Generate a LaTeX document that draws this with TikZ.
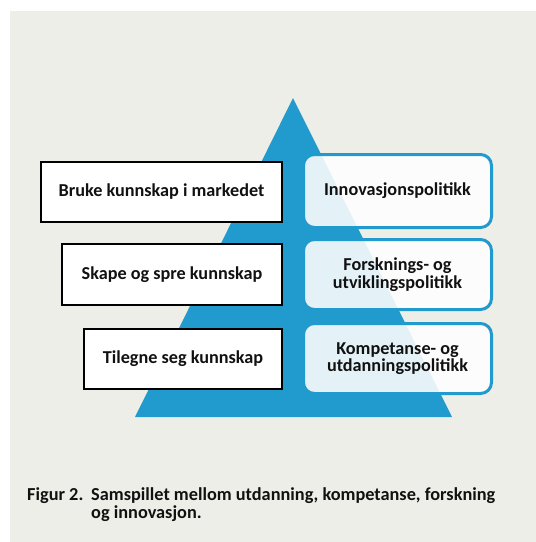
\documentclass[tikz,border=0pt]{standalone}
\usepackage{fontspec}
\setmainfont{Carlito}
\definecolor{panel}{HTML}{EEEEE9}
\definecolor{pyramid}{HTML}{219ACD}
\definecolor{ink}{HTML}{111111}
\begin{document}
\begin{tikzpicture}[x=1pt,y=-1pt,
  boxtext/.style={font=\bfseries\fontsize{18.2}{17.5}\selectfont, text=ink, align=center, inner sep=0pt},
  levelbox/.style={boxtext, draw=black, line width=1.3pt, fill=white},
  policybox/.style={boxtext, draw=pyramid, line width=3pt, rounded corners=11pt,
    fill=white, fill opacity=0.88, text opacity=1},
  caption/.style={font=\bfseries\fontsize{18.3}{16}\selectfont, text=ink, inner sep=0pt,
    anchor=base west, text height=10pt, text depth=2pt}]
  \useasboundingbox (0,0) rectangle (536,542);
  % backdrop panel
  \fill[panel] (10,11) rectangle (536,542);
  % pyramid
  \fill[pyramid] (293,98) -- (452,417) -- (135,417) -- cycle;
  % activity levels
  \node[levelbox, minimum width=241pt, minimum height=60pt] (bruke) at (161.5,192) {Bruke kunnskap i markedet};
  \node[levelbox, minimum width=220pt, minimum height=61pt] (skape) at (172,274.5) {Skape og spre kunnskap};
  \node[levelbox, minimum width=198pt, minimum height=60pt] (tilegne) at (183,359) {Tilegne seg kunnskap};
  % policy areas
  \node[policybox, minimum width=188pt, minimum height=73pt] (innov) at (397.5,191) {Innovasjonspolitikk};
  \node[policybox, minimum width=188pt, minimum height=70pt] (forsk) at (397.5,274.5) {Forsknings- og\\utviklingspolitikk};
  \node[policybox, minimum width=188pt, minimum height=70pt] (komp) at (397.5,358.5) {Kompetanse- og\\utdanningspolitikk};
  % caption
  \node[caption] (figlabel) at (27,500) {Figur 2.};
  \node[caption] (figtext) at (91,500) {Samspillet mellom utdanning, kompetanse, forskning};
  \node[caption] (figtext2) at (91,518) {og innovasjon.};
\end{tikzpicture}
\end{document}
